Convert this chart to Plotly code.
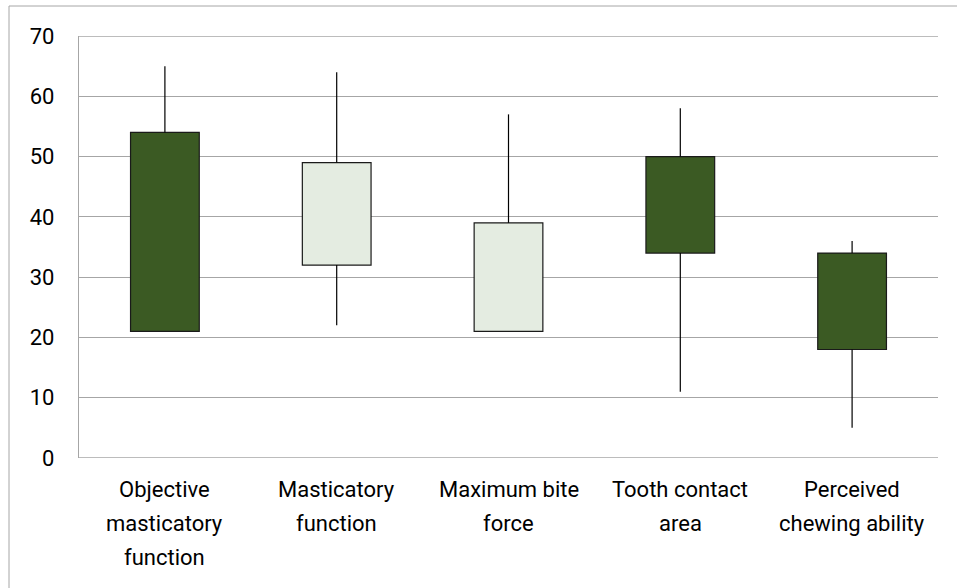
import plotly.graph_objects as go

categories = ["Objective<br>masticatory<br>function", "Masticatory<br>function",
              "Maximum bite<br>force", "Tooth contact<br>area", "Perceived<br>chewing ability"]
open_vals = [54, 32, 21, 50, 34]
high_vals = [65, 64, 57, 58, 36]
low_vals = [21, 22, 21, 11, 5]
close_vals = [21, 49, 39, 34, 18]
y_ticks = [0, 10, 20, 30, 40, 50, 60, 70]

DARK = "#3B5A23"
LIGHT = "#E4ECE1"
GRID = "#A6A6A6"

idx = list(range(len(categories)))
box_base = [min(o, c) for o, c in zip(open_vals, close_vals)]
box_len = [abs(o - c) for o, c in zip(open_vals, close_vals)]
box_col = [DARK if o > c else LIGHT for o, c in zip(open_vals, close_vals)]

# whisker segments (outside the box)
wx, wy = [], []
for i in idx:
    top = max(open_vals[i], close_vals[i])
    bot = min(open_vals[i], close_vals[i])
    if high_vals[i] > top:
        wx += [i, i, None]; wy += [top, high_vals[i], None]
    if low_vals[i] < bot:
        wx += [i, i, None]; wy += [bot, low_vals[i], None]

fig = go.Figure()
fig.add_trace(go.Scatter(x=wx, y=wy, mode="lines",
                         line=dict(color="black", width=1.2),
                         hoverinfo="skip", showlegend=False))
fig.add_trace(go.Bar(x=idx, y=box_len, base=box_base, width=0.4,
                     marker=dict(color=box_col, line=dict(color="#1a1a1a", width=1.2)),
                     showlegend=False))

FONT = "Roboto, 'Liberation Sans', sans-serif"

# category labels as annotations (multi-line, Excel-like spacing)
for i, lab in enumerate(categories):
    for j, line in enumerate(lab.split("<br>")):
        fig.add_annotation(x=i, xref="x", y=-(32 + 33.5 * j) / 422, yref="paper",
                           text=line, showarrow=False, xanchor="center", yanchor="middle",
                           font=dict(family=FONT, size=22, color="black"))

fig.update_layout(
    width=957, height=588,
    margin=dict(l=79, r=19, t=36, b=130),
    paper_bgcolor="white", plot_bgcolor="white",
    font=dict(family=FONT, size=22, color="black"),
    xaxis=dict(range=[-0.5, 4.5], showticklabels=False, showgrid=False,
               zeroline=False, showline=False, ticks=""),
    yaxis=dict(range=[y_ticks[0], y_ticks[-1]], tickvals=y_ticks, showgrid=True, gridcolor=GRID,
               gridwidth=1.3, zeroline=False, showline=True, linecolor=GRID,
               linewidth=1.3, ticks="", ticklabelstandoff=19,
               tickfont=dict(family=FONT, size=22, color="black")),
)

# gridlines at the range edges (plotly skips them)
for yv in (y_ticks[0], y_ticks[-1]):
    fig.add_shape(type="line", xref="paper", yref="y", x0=0, x1=1, y0=yv, y1=yv,
                  line=dict(color=GRID, width=1.3), layer="below")

# outer chart border (left and top edges visible)
fig.add_shape(type="line", xref="paper", yref="paper",
              x0=(9 - 79) / 859, x1=(9 - 79) / 859, y0=-0.6, y1=1 + 30 / 422,
              line=dict(color=GRID, width=1))
fig.add_shape(type="line", xref="paper", yref="paper",
              x0=(9 - 79) / 859, x1=1.1, y0=1 + 30 / 422, y1=1 + 30 / 422,
              line=dict(color=GRID, width=1))

fig.write_html("out.html", config={"displayModeBar": False},
               post_script="document.body.style.margin='0';document.body.style.overflow='hidden';")
